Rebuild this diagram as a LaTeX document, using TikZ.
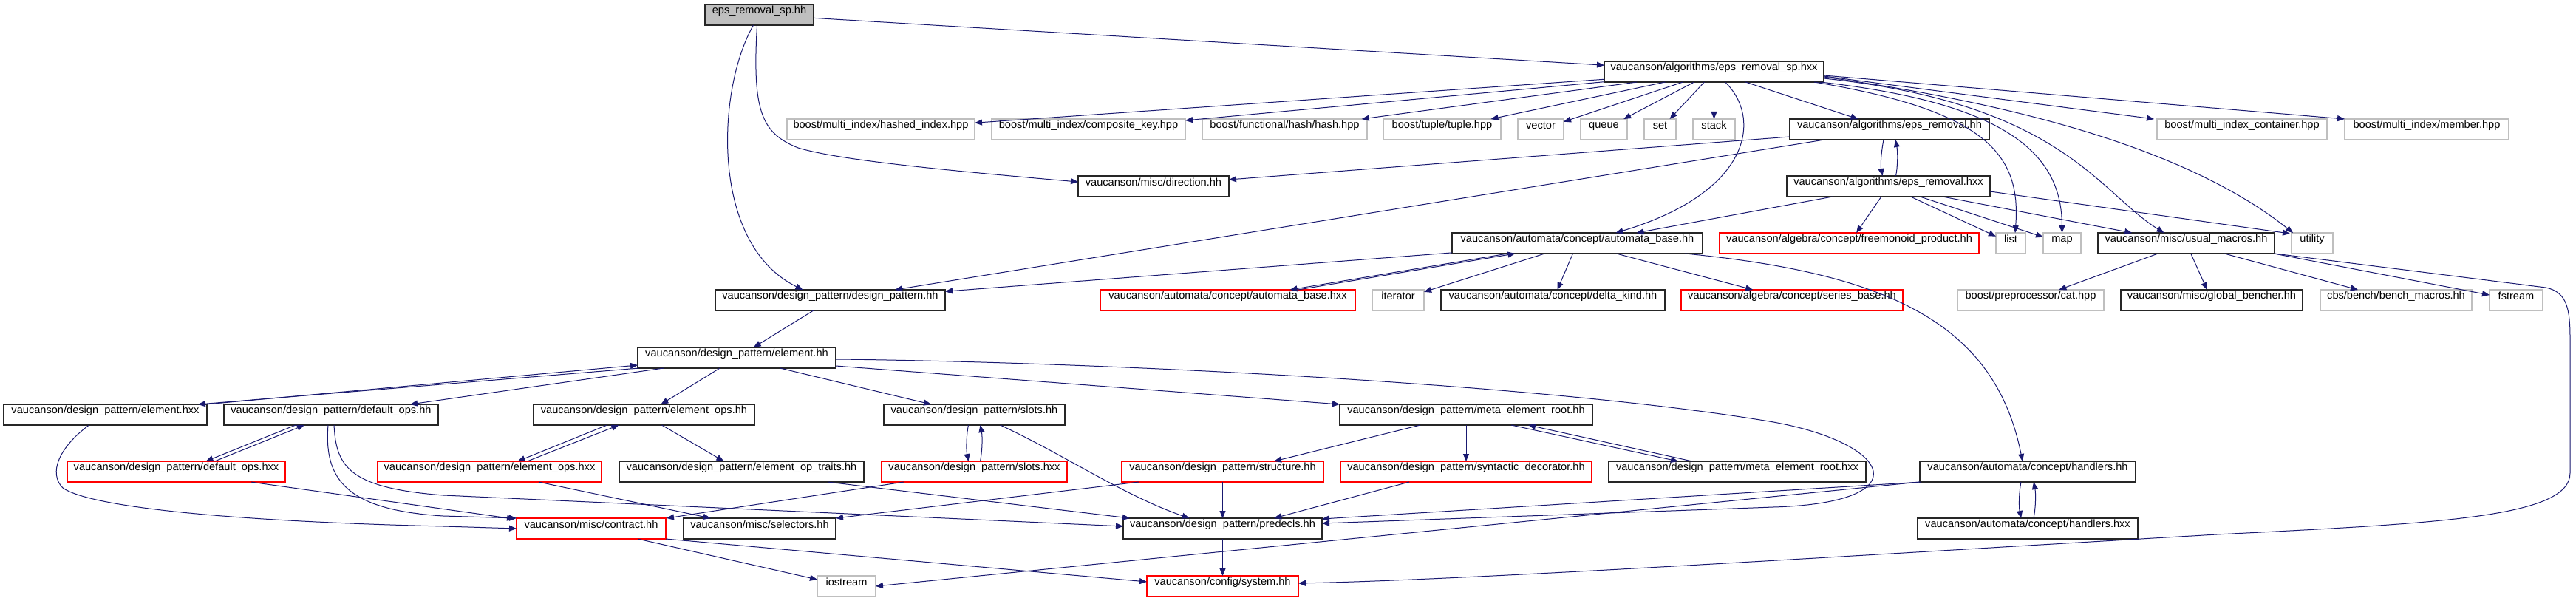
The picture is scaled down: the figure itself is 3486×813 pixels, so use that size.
\documentclass[tikz,border=0pt]{standalone}
\usepackage{fontspec}
\setmainfont{Liberation Sans}
\usetikzlibrary{arrows.meta,calc,fit}
\definecolor{edgec}{HTML}{191970}
\definecolor{grayb}{HTML}{BFBFBF}
\newcommand\nb[7]{\node[#2,fit={(#3,#4) (#5,#6)}] (#1) {#7};}
\begin{document}
\begin{tikzpicture}[x=0.5pt,y=-0.5pt,
  every node/.style={font=\fontsize{7.3}{8}\selectfont, inner sep=0pt, outer sep=0pt},
  doc/.style={draw=black!85, line width=0.55pt},
  ext/.style={draw=grayb, line width=0.55pt},
  root/.style={draw=black!85, fill=grayb, line width=0.55pt},
  trunc/.style={draw=red, line width=0.55pt},
  e/.style={draw=edgec, line width=0.5pt, -{Triangle[length=5pt,width=4pt]}}]
\useasboundingbox[fill=white] (0,0) rectangle (3486,813);
% row 1-2
\nb{A}{root}{954}{6}{1101}{34}{eps\_removal\_sp.hh}
\nb{B}{doc}{2171}{83}{2468}{111}{vaucanson/algorithms/eps\_removal\_sp.hxx}
% row 3
\nb{hashed}{ext}{1065}{161}{1319}{189}{boost/multi\_index/hashed\_index.hpp}
\nb{composite}{ext}{1342}{161}{1604}{189}{boost/multi\_index/composite\_key.hpp}
\nb{hash}{ext}{1627}{161}{1850}{189}{boost/functional/hash/hash.hpp}
\nb{tuple}{ext}{1872}{161}{2031}{189}{boost/tuple/tuple.hpp}
\nb{vector}{ext}{2054}{161}{2116}{189}{vector}
\nb{queue}{ext}{2139}{161}{2202}{189}{queue}
\nb{set}{ext}{2225}{161}{2268}{189}{set}
\nb{stack}{ext}{2291}{161}{2348}{189}{stack}
\nb{epsh}{doc}{2422}{161}{2692}{189}{vaucanson/algorithms/eps\_removal.hh}
\nb{mic}{ext}{2919}{161}{3149}{189}{boost/multi\_index\_container.hpp}
\nb{member}{ext}{3173}{161}{3395}{189}{boost/multi\_index/member.hpp}
% row 4
\nb{direction}{doc}{1459}{238}{1663}{266}{vaucanson/misc/direction.hh}
\nb{epsx}{doc}{2418}{238}{2693}{266}{vaucanson/algorithms/eps\_removal.hxx}
% row 5
\nb{abase}{doc}{1965}{315}{2304}{343}{vaucanson/automata/concept/automata\_base.hh}
\nb{freemon}{trunc}{2327}{315}{2678}{343}{vaucanson/algebra/concept/freemonoid\_product.hh}
\nb{list}{ext}{2701}{315}{2741}{343}{list}
\nb{map}{ext}{2765}{315}{2816}{343}{map}
\nb{usual}{doc}{2839}{315}{3078}{343}{vaucanson/misc/usual\_macros.hh}
\nb{utility}{ext}{3101}{315}{3157}{343}{utility}
% row 6
\nb{dp}{doc}{968}{392}{1279}{420}{vaucanson/design\_pattern/design\_pattern.hh}
\nb{abasex}{trunc}{1489}{392}{1834}{420}{vaucanson/automata/concept/automata\_base.hxx}
\nb{iterator}{ext}{1857}{392}{1927}{420}{iterator}
\nb{delta}{doc}{1950}{392}{2253}{420}{vaucanson/automata/concept/delta\_kind.hh}
\nb{series}{trunc}{2275}{392}{2575}{420}{vaucanson/algebra/concept/series\_base.hh}
\nb{cat}{ext}{2649}{392}{2847}{420}{boost/preprocessor/cat.hpp}
\nb{gbench}{doc}{2870}{392}{3116}{420}{vaucanson/misc/global\_bencher.hh}
\nb{bench}{ext}{3140}{392}{3345}{420}{cbs/bench/bench\_macros.hh}
\nb{fstream}{ext}{3369}{392}{3441}{420}{fstream}
% row 7
\nb{element}{doc}{863}{470}{1131}{498}{vaucanson/design\_pattern/element.hh}
% row 8
\nb{elementx}{doc}{5}{547}{280}{575}{vaucanson/design\_pattern/element.hxx}
\nb{defops}{doc}{303}{547}{593}{575}{vaucanson/design\_pattern/default\_ops.hh}
\nb{elops}{doc}{722}{547}{1021}{575}{vaucanson/design\_pattern/element\_ops.hh}
\nb{slots}{doc}{1196}{547}{1441}{575}{vaucanson/design\_pattern/slots.hh}
\nb{meta}{doc}{1813}{547}{2155}{575}{vaucanson/design\_pattern/meta\_element\_root.hh}
% row 9
\nb{defopsx}{trunc}{91}{624}{386}{652}{vaucanson/design\_pattern/default\_ops.hxx}
\nb{elopsx}{trunc}{511}{624}{814}{652}{vaucanson/design\_pattern/element\_ops.hxx}
\nb{optraits}{doc}{838}{624}{1169}{652}{vaucanson/design\_pattern/element\_op\_traits.hh}
\nb{slotsx}{trunc}{1193}{624}{1444}{652}{vaucanson/design\_pattern/slots.hxx}
\nb{structure}{trunc}{1518}{624}{1791}{652}{vaucanson/design\_pattern/structure.hh}
\nb{syntactic}{trunc}{1814}{624}{2154}{652}{vaucanson/design\_pattern/syntactic\_decorator.hh}
\nb{metax}{doc}{2177}{624}{2525}{652}{vaucanson/design\_pattern/meta\_element\_root.hxx}
\nb{handlers}{doc}{2598}{624}{2890}{652}{vaucanson/automata/concept/handlers.hh}
% row 10
\nb{contract}{trunc}{699}{701}{901}{729}{vaucanson/misc/contract.hh}
\nb{selectors}{doc}{925}{701}{1131}{729}{vaucanson/misc/selectors.hh}
\nb{predecls}{doc}{1520}{701}{1789}{729}{vaucanson/design\_pattern/predecls.hh}
\nb{handlersx}{doc}{2595}{701}{2893}{729}{vaucanson/automata/concept/handlers.hxx}
% row 11
\nb{iostream}{ext}{1106}{779}{1185}{807}{iostream}
\nb{system}{trunc}{1552}{779}{1757}{807}{vaucanson/config/system.hh}

% ---- edges ----
\draw[e] (A) -- (B);
\draw[e] ($(A.south)+(-8,0)$) .. controls (970,120) and (960,330) .. ($(dp.north)+(-37,0)$);
\draw[e] ($(A.south)+(-3,0)$) .. controls (1018,150) and (1030,180) .. (1080,200) .. controls (1130,215) and (1250,228) .. ($(direction.west)+(0,-6)$);
\draw[e] (B) -- (hashed);
\draw[e] (B) -- (composite);
\draw[e] (B) -- (hash);
\draw[e] (B) -- (tuple);
\draw[e] (B) -- (vector);
\draw[e] (B) -- (queue);
\draw[e] (B) -- (set);
\draw[e] (B) -- (stack);
\draw[e] (B) -- (epsh);
\draw[e] ($(B.south)+(15,0)$) .. controls (2385,160) and (2370,260) .. ($(abase.north)+(52,0)$);
\draw[e] ($(B.south east)+(-13,0)$) .. controls (2690,150) and (2735,210) .. ($(list.north)+(6,0)$);
\draw[e] ($(B.south east)+(-5,0)$) .. controls (2720,140) and (2790,210) .. (map.north);
\draw[e] ($(B.east)+(0,9)$) .. controls (2790,140) and (2840,260) .. ($(usual.north)+(-30,0)$);
\draw[e] ($(B.east)+(0,7)$) .. controls (2800,150) and (2990,225) .. ($(utility.north west)+(2,0)$);
\draw[e] ($(B.east)+(0,6)$) -- ($(mic.north west)+(-4,0)$);
\draw[e] ($(B.east)+(0,5)$) -- (member.north west);
\draw[e] ($(epsh.south)+(-8,0)$) .. controls +(-3,15) and +(-3,-15) .. ($(epsx.north)+(-8,0)$);
\draw[e] ($(epsx.north)+(10,0)$) .. controls +(3,-15) and +(3,15) .. ($(epsh.south)+(8,0)$);
\draw[e] ($(epsh.west)+(0,10)$) -- ($(direction.east)+(0,-9)$);
\draw[e] ($(epsh.south west)+(47,0)$) -- ($(dp.north east)+(-68,0)$);
\draw[e] ($(epsx.south west)+(62,0)$) -- ($(abase.north)+(80,0)$);
\draw[e] (epsx) -- (freemon);
\draw[e] (epsx) -- (list);
\draw[e] (epsx) -- (map);
\draw[e] (epsx) -- (usual);
\draw[e] ($(epsx.east)+(0,7)$) -- ($(utility.north west)+(-2,1)$);
\draw[e] (abase) -- (dp);
\draw[e] ($(abase.south)+(-94,0)$) -- ($(abasex.north)+(84,0)$);
\draw[e] ($(abasex.north)+(95,0)$) -- ($(abase.south)+(-84,0)$);
\draw[e] (abase) -- (iterator);
\draw[e] (abase) -- (delta);
\draw[e] (abase) -- (series);
\draw[e] ($(abase.south east)+(-24,0)$) .. controls (2560,370) and (2700,440) .. ($(handlers.north)+(-7,0)$);
\draw[e] (usual) -- (cat);
\draw[e] (usual) -- (gbench);
\draw[e] (usual) -- (bench);
\draw[e] ($(usual.south east)+(-1,0)$) -- (fstream);
\draw[e] (usual.south east) -- (3445,389) .. controls (3475,395) and (3478,420) .. (3478,460) -- (3478,640) .. controls (3478,700) and (3300,708) .. (3000,723) .. controls (2500,752) and (2000,784) .. ($(system.east)+(0,-4)$);
\draw[e] (dp) -- (element);
\draw[e] ($(element.south west)+(2,0)$) -- ($(elementx.north east)+(-12,0)$);
\draw[e] ($(elementx.north east)+(-2,0)$) -- ($(element.south west)+(0,-4)$);
\draw[e] ($(element.south west)+(35,0)$) -- ($(defops.north)+(107,0)$);
\draw[e] (element) -- (elops);
\draw[e] (element) -- (slots);
\draw[e] ($(element.east)+(0,11)$) -- (meta.north west);
\draw[e] ($(element.east)+(0,2)$) .. controls (1500,490) and (2100,520) .. (2400,571) .. controls (2560,600) and (2600,680) .. (2400,686) -- ($(predecls.east)+(0,-7)$);
\draw[e] ($(elementx.south)+(-22,0)$) .. controls (80,605) and (65,640) .. (85,660) .. controls (120,685) and (300,705) .. (600,712) -- (contract.west);
\draw[e] ($(defops.south)+(-48,0)$) -- ($(defopsx.north)+(40,0)$);
\draw[e] ($(defopsx.north)+(52,0)$) -- ($(defops.south)+(-36,0)$);
\draw[e] ($(defops.south)+(-4,0)$) .. controls (438,650) and (470,690) .. (600,698) -- (contract.north west);
\draw[e] ($(defops.south)+(4,0)$) .. controls (455,630) and (470,660) .. (600,670) -- ($(predecls.west)+(0,-3)$);
\draw[e] ($(defopsx.south)+(101,0)$) -- ($(contract.north west)+(-3,1)$);
\draw[e] ($(elops.south)+(-50,0)$) -- ($(elopsx.north)+(38,0)$);
\draw[e] ($(elopsx.north)+(51,0)$) -- ($(elops.south)+(-34,0)$);
\draw[e] (elops) -- (optraits);
\draw[e] (elopsx) -- (selectors);
\draw[e] ($(optraits.south east)+(-49,0)$) -- ($(predecls.north west)+(9,0)$);
\draw[e] ($(slots.south)+(-8,0)$) .. controls +(-3,15) and +(-3,-15) .. ($(slotsx.north)+(-8,0)$);
\draw[e] ($(slotsx.north)+(8,0)$) .. controls +(3,-15) and +(3,15) .. ($(slots.south)+(8,0)$);
\draw[e] ($(slots.south)+(35,0)$) .. controls (1440,615) and (1520,670) .. ($(predecls.north)+(-45,0)$);
\draw[e] ($(slotsx.south west)+(30,0)$) -- ($(contract.north east)+(1,0)$);
\draw[e] ($(structure.south west)+(23,0)$) -- (selectors.north east);
\draw[e] (structure) -- (predecls);
\draw[e] ($(syntactic.south)+(-77,0)$) -- ($(predecls.north east)+(-65,0)$);
\draw[e] ($(meta.south)+(-62,0)$) -- ($(structure.north east)+(-67,0)$);
\draw[e] (meta) -- (syntactic);
\draw[e] ($(meta.south)+(61,0)$) -- ($(metax.north)+(-80,0)$);
\draw[e] ($(metax.north)+(-61,0)$) -- ($(meta.south)+(84,0)$);
\draw[e] ($(handlers.south)+(-9,0)$) .. controls +(-3,15) and +(-3,-15) .. ($(handlersx.north)+(-9,0)$);
\draw[e] ($(handlersx.north)+(8,0)$) .. controls +(3,-15) and +(3,15) .. ($(handlers.south)+(8,0)$);
\draw[e] ($(handlers.south west)+(2,0)$) -- ($(predecls.east)+(0,-13)$);
\draw[e] (handlers.south west) -- (iostream.east);
\draw[e] ($(contract.south east)+(-38,0)$) -- ($(iostream.north west)+(0,5)$);
\draw[e] (contract.south east) -- ($(system.west)+(0,-6)$);
\draw[e] (predecls) -- (system);
\end{tikzpicture}
\end{document}
